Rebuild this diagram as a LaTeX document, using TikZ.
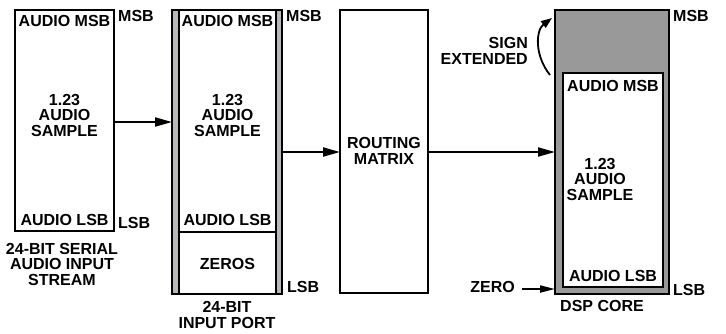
\documentclass[tikz,border=0pt]{standalone}
\usepackage{fontspec}
\setmainfont{Liberation Sans}
\usetikzlibrary{arrows.meta}
\definecolor{stripe}{HTML}{B8B8BC}
\definecolor{dspgray}{HTML}{999999}
\tikzset{
  lbl/.style={font=\fontsize{16}{15.5}\selectfont\bfseries, inner sep=0pt, align=center},
  boxline/.style={line width=2pt},
  flow/.style={line width=2pt, -{Triangle[length=17pt,width=9pt]}},
}
\begin{document}
\begin{tikzpicture}[x=1pt,y=-1pt]
\useasboundingbox (0,0) rectangle (726,333);
% serial stream box
\draw[boxline] (15,10) rectangle (114,231);
\coordinate (s1) at (114,122);
\node[lbl] (s1msb) at (64.5,21) {AUDIO MSB};
\node[lbl] (s1lsb) at (64.5,220) {AUDIO LSB};
\node[lbl] (s1smp) at (64.5,115) {1.23\\AUDIO\\SAMPLE};
\node[lbl, anchor=west] (s1m) at (118,16) {MSB};
\node[lbl, anchor=west] (s1l) at (118,223) {LSB};
\node[lbl] (s1cap) at (62,264) {24-BIT SERIAL\\AUDIO INPUT\\STREAM};
% input port
\fill[stripe] (172,10) rectangle (282,294);
\draw[boxline] (172,10) rectangle (282,294);
\draw[boxline, fill=white] (179,10) rectangle (276,294);
\draw[boxline] (179,232) -- (276,232);
\coordinate (p1in) at (172,122);
\coordinate (p1out) at (282,152);
\node[lbl] (pmsb) at (227.5,21) {AUDIO MSB};
\node[lbl] (psmp) at (227.5,115) {1.23\\AUDIO\\SAMPLE};
\node[lbl] (plsb) at (227.5,220) {AUDIO LSB};
\node[lbl] (pz) at (227.5,264) {ZEROS};
\node[lbl, anchor=west] (pm) at (286,16) {MSB};
\node[lbl, anchor=west] (pl) at (287,287) {LSB};
\node[lbl] (pcap) at (227,315) {24-BIT\\INPUT PORT};
% routing matrix
\draw[boxline] (340,10) rectangle (428,293);
\coordinate (rin) at (340,152);
\coordinate (rout) at (428,152);
\node[lbl] (rm) at (384,151) {ROUTING\\MATRIX};
% DSP core
\draw[boxline, fill=dspgray] (555,10) rectangle (669,294);
\draw[boxline, fill=white] (563,73) rectangle (663,287);
\coordinate (din) at (555,152);
\coordinate (dz) at (555,289);
\node[lbl] (dmsb) at (613,86) {AUDIO MSB};
\node[lbl] (dsmp) at (600,179) {1.23\\AUDIO\\SAMPLE};
\node[lbl] (dlsb) at (613,276) {AUDIO LSB};
\node[lbl, anchor=west] (dm) at (673,16) {MSB};
\node[lbl, anchor=west] (dl) at (673,290) {LSB};
\node[lbl] (dcap) at (602,306) {DSP CORE};
\node[lbl, anchor=east] (zero) at (515,287) {ZERO};
\node[lbl, align=right, anchor=east] (sign) at (528,51) {SIGN\\EXTENDED};
\coordinate (sgA) at (550,75);
\coordinate (sgB) at (552,18);
% connectors
\draw[flow] (s1) -- (p1in);
\draw[flow] (p1out) -- (rin);
\draw[flow] (rout) -- (din);
\draw[line width=2pt, -{Triangle[length=15pt,width=7pt]}] (zero.east) ++(7,2) -- (dz);
\draw[line width=1.8pt, -{Triangle[length=11pt,width=8pt]}] (sgA) .. controls (534,55) and (536,30) .. (sgB);
\end{tikzpicture}
\end{document}
